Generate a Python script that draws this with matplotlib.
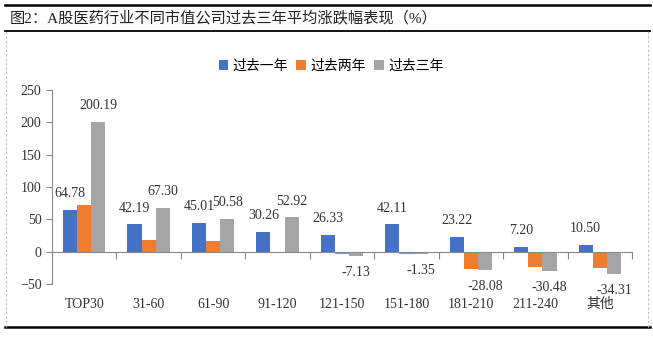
import numpy as np
import matplotlib.pyplot as plt
from matplotlib.lines import Line2D

plt.rcParams['font.family'] = ['Liberation Serif', 'Noto Sans CJK SC']

# 数据
categories = ['TOP30', '31-60', '61-90', '91-120', '121-150', '151-180',
              '181-210', '211-240', '其他']
one_year = [64.78, 42.19, 45.01, 30.26, 26.33, 42.11, 23.22, 7.20, 10.50]
two_year = [72.0, 17.5, 16.0, -2.0, -3.5, -3.0, -27.0, -24.0, -25.3]
three_year = [200.19, 67.30, 50.58, 52.92, -7.13, -4.0, -28.08, -30.48, -34.31]
three_year_labels = [200.19, 67.30, 50.58, 52.92, -7.13, -1.35, -28.08, -30.48, -34.31]
series_names = ['过去一年', '过去两年', '过去三年']
colors = ['#4472C4', '#ED7D31', '#A5A5A5']

fig = plt.figure(figsize=(6.53, 3.41), dpi=100, facecolor='w')

# 标题和边框
fig.add_artist(Line2D([0.008, 0.995], [1 - 5 / 341, 1 - 5 / 341], color='k', lw=1.8))
fig.add_artist(Line2D([0.008, 0.995], [1 - 31 / 341, 1 - 31 / 341], color='k', lw=1.3))
fig.add_artist(Line2D([0.008, 0.995], [1 - 327 / 341, 1 - 327 / 341], color='k', lw=1.8))
fig.add_artist(Line2D([6 / 653, 6 / 653], [1 - 327 / 341, 1 - 31 / 341],
                      color='#bbbbbb', lw=0.8, ls=(0, (2, 2))))
fig.add_artist(Line2D([648 / 653, 648 / 653], [1 - 327 / 341, 1 - 31 / 341],
                      color='#bbbbbb', lw=0.8, ls=(0, (2, 2))))
fig.text(10 / 653, 1 - 18 / 341, '图2：A股医药行业不同市值公司过去三年平均涨跌幅表现（%）',
         fontsize=11, va='center', ha='left', color='#222222')

ax = fig.add_axes([52 / 653, 1 - 284 / 341, 580 / 653, 194 / 341])

x = np.arange(len(categories))
w = 0.22
b1 = ax.bar(x - w, one_year, w, color=colors[0], label=series_names[0])
b2 = ax.bar(x, two_year, w, color=colors[1], label=series_names[1])
b3 = ax.bar(x + w, three_year, w, color=colors[2], label=series_names[2])

# 数据标签
for xi, v, lab in list(zip(x - w, one_year, one_year)) + \
        list(zip(x + w, three_year, three_year_labels)):
    ax.annotate(f'{lab:.2f}', (xi, v), xytext=(0, 7 if v >= 0 else -7),
                textcoords='offset points', ha='center',
                va='bottom' if v >= 0 else 'top', fontsize=10, color='#333333')

ax.set_xlim(-0.5, len(categories) - 0.5)
ax.set_ylim(-50, 250)
ax.set_yticks(np.arange(-50, 251, 50))
ax.tick_params(axis='y', labelsize=10, colors='#333333', length=4, color='#888888')

ax.spines['top'].set_visible(False)
ax.spines['right'].set_visible(False)
ax.spines['left'].set_color('#888888')
ax.spines['bottom'].set_color('#888888')
ax.spines['bottom'].set_position(('data', 0))
ax.set_xticks(np.arange(len(categories)) + 0.5)
ax.set_xticklabels([])
ax.tick_params(axis='x', length=5, direction='out', color='#888888')

for xi, c in zip(x, categories):
    ax.text(xi, -0.07, c, transform=ax.get_xaxis_transform(), ha='center',
            va='top', fontsize=10, color='#333333')

fig.legend(handles=[b1, b2, b3], loc='center', bbox_to_anchor=(0.507, 1 - 66 / 341),
           ncol=3, frameon=False, fontsize=10, handlelength=0.7, handleheight=0.7,
           handletextpad=0.3, columnspacing=0.6)

fig.savefig('out.png', dpi=100)
